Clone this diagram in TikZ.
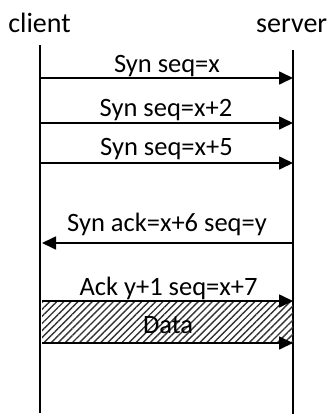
\documentclass[tikz,border=0pt]{standalone}
\usepackage{fontspec}
\setmainfont{Carlito}
\usetikzlibrary{arrows.meta,patterns.meta}
\begin{document}
\begin{tikzpicture}[x=1pt,y=1pt,
  lifeline/.style={line width=1.7pt},
  msg/.style={line width=1.7pt,-{Triangle[length=14pt,width=13pt]}},
  lbl/.style={font=\fontsize{26.5}{26.5}\selectfont,anchor=base,inner sep=0pt},
  head/.style={font=\fontsize{28}{28}\selectfont,anchor=base,inner sep=0pt}]
\useasboundingbox (0,0) rectangle (330,-415);
% headers
\node[head] (client) at (39.5,-32.3) {client};
\node[head] (server) at (291.7,-32.3) {server};
% lifelines
\coordinate (ctop) at (40,-45);
\coordinate (cbot) at (40,-413);
\coordinate (stop) at (293,-50);
\coordinate (sbot) at (293,-414);
\draw[lifeline] (ctop) -- (cbot);
\draw[lifeline] (stop) -- (sbot);
% hatched data region
\coordinate (dA) at (42,-301);
\coordinate (dB) at (293,-343);
\fill[pattern={Lines[angle=45,distance=5pt,line width=1.4pt]},pattern color=black!80] (dA) rectangle (dB);
% message coordinates
\coordinate (c1) at (40,-78);  \coordinate (s1) at (293,-78);
\coordinate (c2) at (40,-123); \coordinate (s2) at (293,-123);
\coordinate (c3) at (40,-163); \coordinate (s3) at (293,-163);
\coordinate (c4) at (42,-243); \coordinate (s4) at (293,-243);
\coordinate (c5) at (42,-301); \coordinate (s5) at (293,-301);
\coordinate (c6) at (42,-343); \coordinate (s6) at (293,-343);
\draw[msg] (c1) -- (s1);
\draw[msg] (c2) -- (s2);
\draw[msg] (c3) -- (s3);
\draw[msg] (s4) -- (c4);
\draw[msg] (c5) -- (s5);
\draw[msg] (c6) -- (s6);
% labels
\node[lbl] (l1) at (167,-72.7) {Syn seq=x};
\node[lbl] (l2) at (166,-116) {Syn seq=x+2};
\node[lbl] (l3) at (166.5,-155) {Syn seq=x+5};
\node[lbl] (l4) at (167,-231.7) {Syn ack=x+6 seq=y};
\node[lbl] (l5) at (168.5,-295) {Ack y+1 seq=x+7};
\node[lbl] (l6) at (168,-333) {Data};
\end{tikzpicture}
\end{document}
